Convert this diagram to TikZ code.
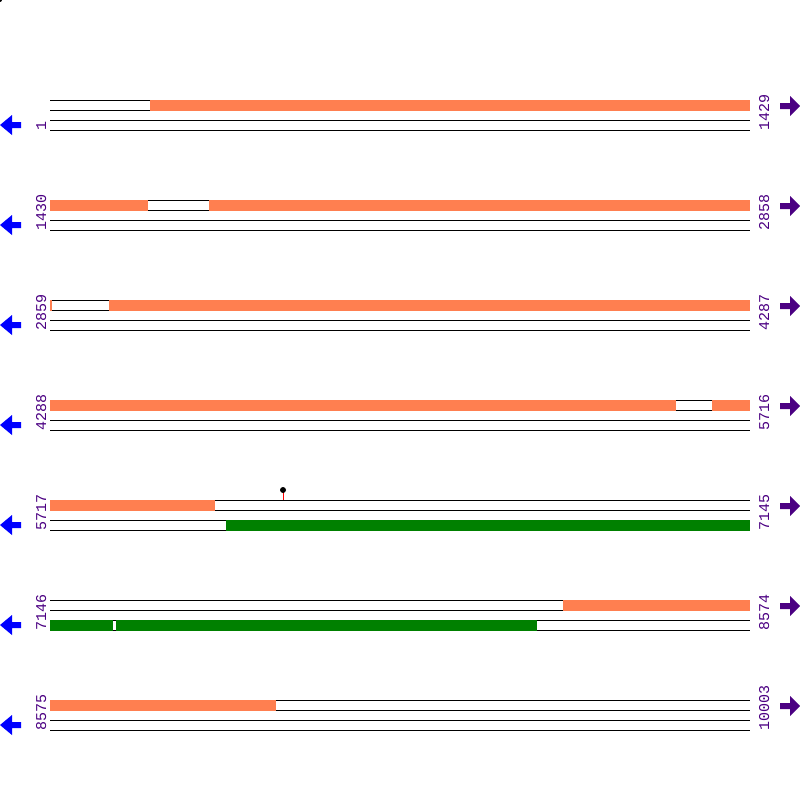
\documentclass[tikz,border=0pt]{standalone}
\usepackage{fontspec}
\newfontfamily\zahlfont{Liberation Mono}
\usetikzlibrary{positioning}
\definecolor{orangebar}{HTML}{FF7F50}
\definecolor{greenbar}{HTML}{008000}
\definecolor{numcol}{HTML}{4B0082}
\definecolor{pfeilblau}{HTML}{0000FF}
\tikzset{
  strang/.style={black,line width=1pt},
  zahl/.style={font=\zahlfont\fontsize{15}{15}\selectfont,text=numcol,rotate=90,anchor=base west,inner sep=0pt},
}
\begin{document}
\begin{tikzpicture}[x=1pt,y=-1pt]
\useasboundingbox (0,0) rectangle (800,800);
%kleiner Punkt oben links
\fill (0,0) circle (2);
%Zeilen: Nummer / linke Zahl / rechte Zahl
\foreach \r/\links/\rechts in {1/1/1429,2/1430/2858,3/2859/4287,4/4288/5716,5/5717/7145,6/7146/8574,7/8575/10003}{
  \pgfmathsetmacro{\yo}{100*\r}
  \foreach \d in {0,10,20,30}
    \draw[strang] (50,\yo+\d) -- (750,\yo+\d);
  \node[zahl] (links\r) at (46,\yo+31) {\links};
  \node[zahl] (rechts\r) at (769,\yo+31) {\rechts};
  \fill[pfeilblau] (0,\yo+25) -- (12,\yo+15) -- (12,\yo+22) -- (21,\yo+22) -- (21,\yo+28) -- (12,\yo+28) -- (12,\yo+35) -- cycle;
  \fill[numcol] (800,\yo+6) -- (790,\yo-4) -- (790,\yo+3) -- (780,\yo+3) -- (780,\yo+9) -- (790,\yo+9) -- (790,\yo+16) -- cycle;
}
%orange Abschnitte oben
\foreach \r/\a/\b in {1/150/750,2/50/148,2/209/750,3/50/52,3/109/750,4/50/676,4/712/750,5/50/215,6/563/750,7/50/276}
  \fill[orangebar] (\a,100*\r-0.5) rectangle (\b,100*\r+10.5);
%gruene Abschnitte unten
\foreach \r/\a/\b in {5/226/750,6/50/113,6/116/537}
  \fill[greenbar] (\a,100*\r+19.5) rectangle (\b,100*\r+30.5);
%Stecknadel
\draw[red,line width=1pt] (283,490) -- (283,500);
\fill (283,490) circle (3);
\end{tikzpicture}
\end{document}
